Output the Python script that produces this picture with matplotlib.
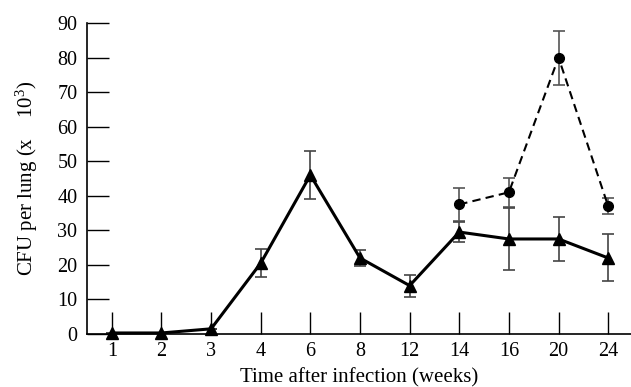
import matplotlib
matplotlib.use("Agg")
import matplotlib.pyplot as plt

plt.rcParams['font.family'] = ['Liberation Serif', 'DejaVu Serif']
plt.rcParams['mathtext.fontset'] = 'custom'
plt.rcParams['mathtext.rm'] = 'Liberation Serif'
plt.rcParams['mathtext.it'] = 'Liberation Serif:italic'

weeks = ['1', '2', '3', '4', '6', '8', '12', '14', '16', '20', '24']
tri_vals = [0.3, 0.3, 1.5, 20.5, 46, 22, 14, 29.5, 27.5, 27.5, 22]
tri_err = [0, 0, 0, 4, 7, 2.3, 3.2, 2.8, 9, 6.3, 6.8]
circ_weeks = ['14', '16', '20', '24']
circ_vals = [37.5, 41, 80, 37]
circ_err = [4.8, 4.2, 7.8, 2.3]

x = list(range(len(weeks)))
cx = [weeks.index(w) for w in circ_weeks]

fig = plt.figure(figsize=(6.31, 3.87), dpi=100)
ax = fig.add_axes([87/631, 1-334/387, 1-87/631, (334-23)/387])

ax.errorbar(cx, circ_vals, yerr=circ_err, fmt='none', ecolor='#555555',
            elinewidth=1.2, capsize=4, capthick=1.2, zorder=2)
ax.errorbar(x, tri_vals, yerr=tri_err, fmt='none', ecolor='#444444',
            elinewidth=1.2, capsize=4, capthick=1.2, zorder=2)
ax.plot(cx, circ_vals, color='black', linestyle=(0, (4, 2.5)), linewidth=1.5,
        marker='o', markersize=7, zorder=3, clip_on=False)
ax.plot(x, tri_vals, color='black', linewidth=2.2, marker='^',
        markersize=8, zorder=4, clip_on=False)

ax.set_xlim(-0.5, 10.46)
ax.set_ylim(0, 90)
ax.set_xticks(x)
ax.set_xticklabels(weeks)
ax.set_yticks(range(0, 91, 10))
for s in ['top', 'right']:
    ax.spines[s].set_visible(False)
for s in ['left', 'bottom']:
    ax.spines[s].set_linewidth(1.2)
ax.tick_params(axis='both', direction='in', length=16, width=1.0,
               labelsize=14.5, colors='black')
ax.tick_params(axis='y', pad=7)
ax.tick_params(axis='x', pad=6)

ax.set_xlabel('Time after infection (weeks)', fontsize=15, labelpad=5)
ax.set_ylabel('CFU per lung (x    10$^{3}$)', fontsize=15, labelpad=12)

fig.savefig('out.png', dpi=100)
